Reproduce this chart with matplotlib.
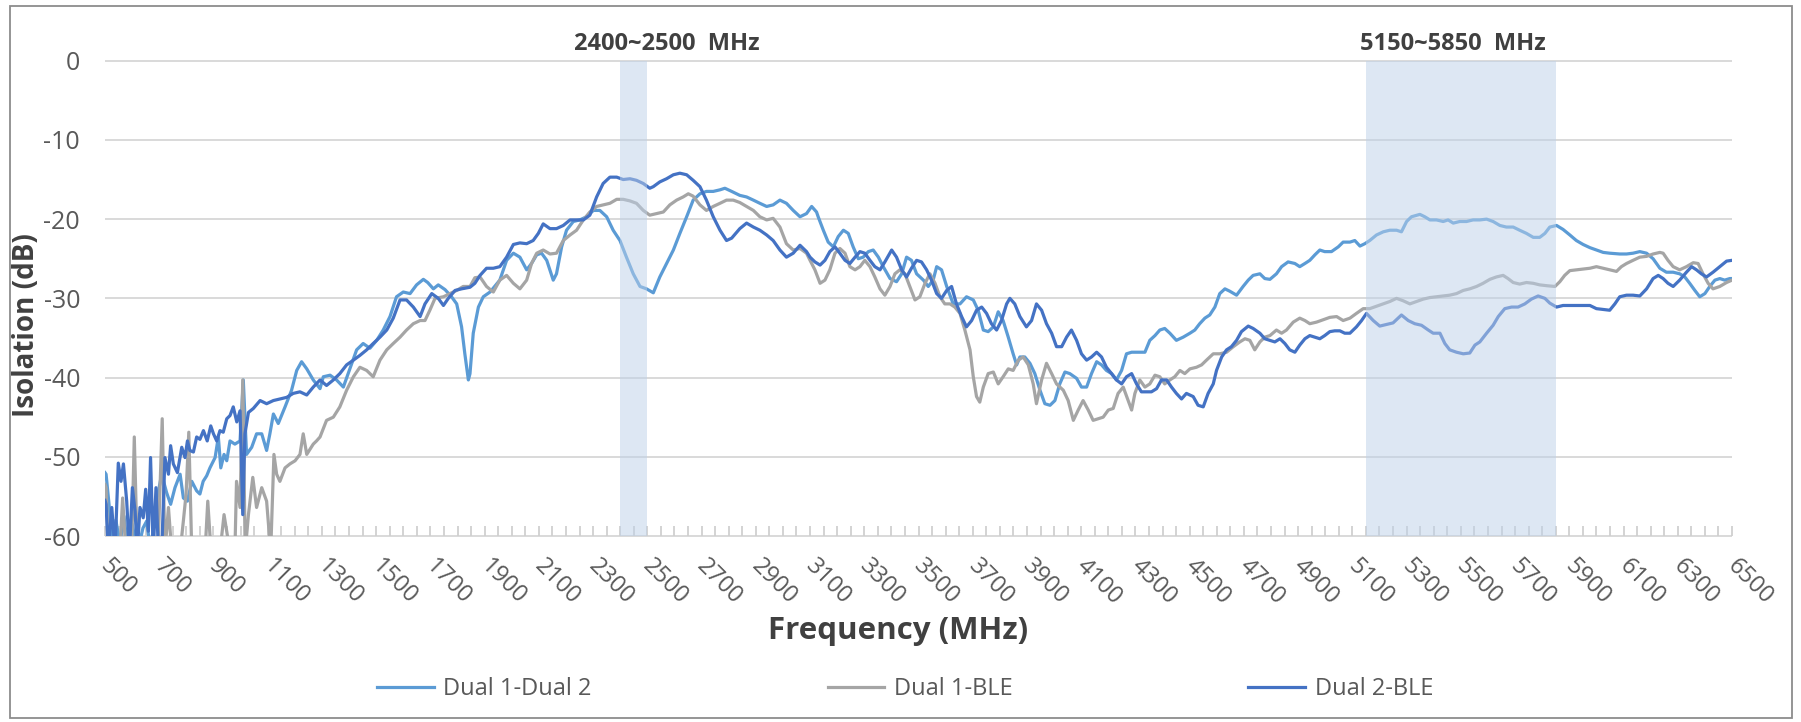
import matplotlib
matplotlib.use("Agg")
import matplotlib.pyplot as plt
from matplotlib.patches import Rectangle
import matplotlib.transforms as mtransforms

plt.rcParams['font.family'] = ['Open Sans', 'DejaVu Sans']
plt.rcParams['axes.unicode_minus'] = False

# ---------------- data ----------------
series_names = ["Dual 1-Dual 2", "Dual 1-BLE", "Dual 2-BLE"]
series_colors = ["#5B9BD5", "#A5A5A5", "#4472C4"]

y_ticks = [0, -10, -20, -30, -40, -50, -60]
x_label_ticks = list(range(500, 6501, 200))
x_minor_ticks = list(range(500, 6501, 50))
bands = [(2400, 2500), (5150, 5850)]
band_labels = ["2400~2500  MHz", "5150~5850  MHz"]
band_label_x = [2570, 5470]

d12_freq = [500, 504, 516, 528, 540, 555, 570, 585, 600, 620, 640, 654, 668, 690, 709, 727, 742, 758, 777, 789,
            804, 820, 838, 850, 862, 875, 887, 906, 918, 927, 939, 949, 961, 979, 998, 1010, 1022, 1041, 1059, 1078,
            1096, 1108, 1121, 1139, 1164, 1188, 1207, 1225, 1244, 1268, 1293, 1305, 1330, 1354, 1379, 1403, 1428, 1452, 1477, 1502,
            1526, 1551, 1575, 1600, 1625, 1649, 1674, 1690, 1711, 1729, 1754, 1778, 1797, 1815, 1827, 1840, 1846, 1858, 1877, 1895,
            1920, 1956, 1981, 2006, 2030, 2055, 2073, 2092, 2110, 2129, 2153, 2165, 2184, 2202, 2227, 2251, 2276, 2301, 2325, 2350,
            2374, 2399, 2423, 2448, 2473, 2497, 2522, 2546, 2571, 2596, 2620, 2645, 2669, 2694, 2718, 2743, 2768, 2786, 2811, 2841,
            2866, 2891, 2915, 2940, 2964, 2989, 3013, 3038, 3063, 3087, 3106, 3124, 3130, 3149, 3167, 3186, 3204, 3223, 3241, 3259,
            3278, 3296, 3315, 3333, 3352, 3370, 3395, 3419, 3438, 3456, 3474, 3493, 3518, 3536, 3554, 3567, 3585, 3604, 3628, 3653,
            3677, 3702, 3720, 3739, 3757, 3776, 3794, 3812, 3831, 3849, 3862, 3874, 3892, 3911, 3929, 3948, 3966, 3985, 4003, 4021,
            4040, 4058, 4083, 4101, 4120, 4138, 4157, 4175, 4193, 4212, 4230, 4249, 4267, 4286, 4310, 4335, 4353, 4372, 4390, 4408,
            4427, 4451, 4476, 4501, 4519, 4537, 4556, 4574, 4593, 4611, 4630, 4648, 4673, 4697, 4716, 4734, 4759, 4777, 4796, 4820,
            4839, 4863, 4888, 4906, 4925, 4943, 4962, 4980, 4998, 5023, 5048, 5066, 5091, 5109, 5128, 5146, 5164, 5189, 5214, 5238,
            5263, 5281, 5300, 5318, 5349, 5367, 5386, 5410, 5435, 5453, 5472, 5496, 5521, 5545, 5570, 5595, 5619, 5644, 5668, 5693,
            5717, 5742, 5767, 5791, 5810, 5828, 5853, 5877, 5902, 5926, 5951, 5976, 6000, 6025, 6049, 6086, 6111, 6135, 6160, 6185,
            6209, 6234, 6258, 6283, 6307, 6326, 6344, 6363, 6381, 6400, 6418, 6437, 6455, 6473, 6492, 6500]
d12_db = [-52.0, -52.2, -56.4, -62.0, -58.0, -61.0, -57.5, -62.0, -58.5, -62.0, -59.0, -58.1, -62.0, -55.6, -52.2, -54.5, -56.0, -53.9, -52.2, -55.2,
          -55.6, -53.1, -54.3, -54.7, -53.1, -52.4, -51.4, -50.1, -47.5, -51.4, -49.7, -50.5, -48.0, -48.4, -48.0, -40.3, -49.7, -48.8, -47.1, -47.1,
          -49.2, -47.1, -44.6, -45.8, -43.7, -41.6, -39.1, -38.0, -38.9, -40.3, -41.4, -39.9, -39.7, -40.3, -41.2, -38.9, -36.5, -35.7, -36.3, -35.3,
          -34.0, -32.3, -29.8, -29.2, -29.4, -28.3, -27.6, -28.0, -28.8, -28.3, -28.9, -29.8, -30.7, -33.6, -37.0, -40.3, -39.5, -34.4, -31.1, -29.8,
          -29.2, -27.7, -25.2, -24.3, -24.8, -26.4, -25.6, -24.5, -24.3, -25.2, -27.7, -26.9, -23.5, -21.4, -20.3, -20.1, -19.7, -18.9, -18.9, -19.7,
          -21.4, -22.7, -24.8, -26.9, -28.5, -28.8, -29.3, -27.3, -25.6, -23.9, -21.8, -19.7, -17.6, -16.8, -16.5, -16.5, -16.3, -16.1, -16.5, -17.0,
          -17.2, -17.6, -18.0, -18.4, -18.2, -17.6, -18.0, -18.9, -19.7, -19.3, -18.4, -19.1, -19.7, -21.4, -22.9, -23.5, -22.2, -21.4, -21.8, -23.5,
          -25.0, -24.8, -24.1, -23.9, -24.8, -26.0, -27.5, -27.9, -26.9, -24.8, -25.2, -26.9, -27.7, -28.5, -27.7, -26.0, -26.4, -28.5, -30.7, -30.7,
          -29.8, -30.2, -31.5, -34.0, -34.2, -33.6, -31.7, -32.8, -34.9, -37.0, -38.4, -37.4, -37.4, -38.2, -39.5, -41.6, -43.3, -43.5, -42.9, -40.8,
          -39.3, -39.5, -40.1, -41.2, -41.2, -39.5, -38.0, -38.4, -39.1, -39.5, -40.3, -39.1, -37.0, -36.8, -36.8, -36.8, -35.3, -34.7, -34.0, -33.8,
          -34.4, -35.3, -34.9, -34.4, -34.0, -33.2, -32.5, -32.1, -31.1, -29.4, -28.8, -29.1, -29.6, -28.5, -27.7, -27.1, -26.9, -27.5, -27.6, -26.9,
          -26.0, -25.4, -25.6, -26.0, -25.6, -25.2, -24.5, -23.9, -24.1, -24.1, -23.5, -22.9, -22.9, -22.7, -23.4, -23.1, -22.7, -22.0, -21.6, -21.4,
          -21.4, -21.6, -20.3, -19.7, -19.4, -19.7, -20.1, -20.1, -20.3, -20.1, -20.5, -20.3, -20.3, -20.1, -20.1, -20.0, -20.3, -20.8, -21.0, -21.0,
          -21.4, -21.8, -22.3, -22.3, -21.8, -21.0, -20.8, -21.3, -22.0, -22.7, -23.2, -23.6, -23.9, -24.2, -24.3, -24.4, -24.4, -24.3, -24.1, -24.3,
          -25.0, -26.2, -26.7, -26.7, -26.9, -27.3, -28.1, -29.0, -29.8, -29.4, -28.5, -27.7, -27.5, -27.7, -27.5, -27.5]

d1ble_freq = [500, 504, 512, 545, 555, 565, 577, 598, 608, 619, 650, 695, 703, 711, 721, 734, 746, 777, 789, 799,
              809, 820, 869, 879, 891, 924, 939, 949, 961, 979, 985, 998, 1008, 1017, 1029, 1045, 1059, 1078, 1096, 1111,
              1123, 1133, 1145, 1164, 1182, 1201, 1219, 1231, 1244, 1268, 1280, 1293, 1317, 1342, 1366, 1391, 1416, 1440, 1465, 1489,
              1514, 1539, 1563, 1588, 1612, 1637, 1662, 1680, 1698, 1717, 1748, 1772, 1797, 1821, 1846, 1864, 1883, 1907, 1932, 1956,
              1981, 2006, 2030, 2055, 2073, 2092, 2116, 2141, 2165, 2190, 2215, 2239, 2264, 2288, 2313, 2337, 2362, 2387, 2411, 2436,
              2460, 2485, 2509, 2534, 2559, 2583, 2608, 2632, 2651, 2669, 2694, 2718, 2743, 2768, 2792, 2817, 2841, 2866, 2891, 2915,
              2940, 2964, 2989, 3013, 3038, 3063, 3087, 3100, 3118, 3137, 3155, 3173, 3192, 3210, 3229, 3247, 3266, 3284, 3302, 3321,
              3339, 3358, 3376, 3395, 3413, 3431, 3450, 3468, 3487, 3505, 3524, 3542, 3561, 3579, 3597, 3616, 3634, 3653, 3671, 3690,
              3702, 3714, 3726, 3739, 3757, 3776, 3794, 3812, 3831, 3849, 3868, 3886, 3905, 3923, 3935, 3954, 3972, 3991, 4009, 4034,
              4052, 4071, 4089, 4107, 4126, 4144, 4163, 4181, 4200, 4218, 4236, 4255, 4273, 4286, 4298, 4316, 4335, 4353, 4372, 4390,
              4408, 4427, 4445, 4464, 4482, 4501, 4525, 4544, 4562, 4587, 4611, 4636, 4661, 4685, 4704, 4722, 4740, 4759, 4777, 4796,
              4820, 4839, 4857, 4882, 4906, 4925, 4943, 4968, 4992, 5017, 5042, 5066, 5091, 5115, 5140, 5164, 5189, 5214, 5238, 5263,
              5287, 5312, 5336, 5361, 5386, 5410, 5435, 5459, 5484, 5509, 5533, 5558, 5582, 5607, 5631, 5656, 5674, 5693, 5717, 5742,
              5767, 5791, 5816, 5847, 5865, 5883, 5902, 5926, 5951, 5976, 6000, 6025, 6049, 6074, 6092, 6111, 6135, 6160, 6185, 6209,
              6234, 6246, 6264, 6283, 6307, 6332, 6357, 6375, 6393, 6412, 6430, 6455, 6480, 6500]
d1ble_db = [-53.5, -53.9, -62.0, -62.0, -62.0, -55.2, -62.0, -62.0, -47.5, -62.0, -62.0, -62.0, -53.9, -45.2, -62.0, -56.4, -62.0, -62.0, -58.1, -54.7,
            -46.9, -62.0, -62.0, -55.6, -62.0, -62.0, -57.3, -59.4, -62.0, -62.0, -53.1, -56.4, -40.3, -62.0, -57.3, -52.6, -56.4, -53.9, -55.6, -62.0,
            -49.7, -52.2, -53.1, -51.4, -50.9, -50.5, -49.7, -47.1, -49.7, -48.4, -48.0, -47.5, -45.4, -45.0, -43.7, -41.6, -39.9, -38.7, -39.1, -39.9,
            -37.8, -36.5, -35.7, -34.9, -34.0, -33.2, -32.8, -32.8, -31.5, -30.0, -29.8, -29.4, -29.0, -28.5, -28.5, -27.4, -27.3, -28.5, -29.2, -27.7,
            -27.1, -28.1, -28.8, -27.7, -25.6, -24.3, -23.9, -24.4, -24.3, -22.7, -22.0, -21.4, -20.1, -19.1, -18.4, -18.2, -18.0, -17.5, -17.5, -17.7,
            -18.0, -18.9, -19.5, -19.3, -19.1, -18.2, -17.6, -17.2, -16.8, -17.1, -18.2, -18.9, -18.4, -18.0, -17.6, -17.6, -17.9, -18.4, -18.9, -19.7,
            -20.1, -19.9, -21.0, -23.1, -23.9, -23.7, -24.3, -25.2, -26.4, -28.1, -27.7, -26.4, -24.3, -23.7, -24.3, -26.0, -26.4, -26.0, -25.2, -26.0,
            -27.3, -28.8, -29.6, -28.5, -26.9, -26.4, -26.9, -28.5, -30.2, -29.8, -28.1, -26.9, -28.1, -29.8, -30.7, -30.7, -31.1, -31.9, -34.0, -36.5,
            -39.9, -42.4, -43.1, -41.2, -39.5, -39.3, -40.8, -39.9, -38.9, -39.1, -37.8, -37.4, -38.4, -40.8, -43.3, -40.3, -38.2, -39.5, -40.8, -41.6,
            -42.9, -45.4, -44.1, -42.9, -44.1, -45.4, -45.2, -45.0, -44.1, -43.9, -42.0, -41.2, -42.9, -44.1, -42.0, -40.3, -41.2, -40.8, -39.7, -39.9,
            -40.8, -40.3, -39.9, -39.1, -39.5, -38.9, -38.7, -38.4, -37.8, -37.0, -37.0, -36.8, -36.1, -35.5, -35.1, -35.3, -36.5, -35.5, -34.9, -34.7,
            -34.0, -34.4, -34.0, -33.0, -32.5, -32.8, -33.2, -33.0, -32.7, -32.4, -32.3, -32.8, -32.5, -31.9, -31.3, -31.3, -31.0, -30.7, -30.4, -30.0,
            -30.3, -30.7, -30.4, -30.1, -29.9, -29.8, -29.7, -29.6, -29.4, -29.0, -28.8, -28.5, -28.1, -27.6, -27.3, -27.1, -27.5, -28.0, -28.2, -28.0,
            -28.1, -28.3, -28.4, -28.5, -27.9, -27.1, -26.5, -26.4, -26.3, -26.2, -26.0, -26.2, -26.4, -26.6, -26.0, -25.6, -25.2, -24.8, -24.7, -24.4,
            -24.2, -24.3, -25.2, -26.0, -26.4, -26.0, -25.5, -25.6, -26.9, -28.1, -28.8, -28.5, -28.0, -27.7]

d2ble_freq = [500, 504, 512, 525, 537, 549, 559, 568, 580, 590, 601, 611, 619, 629, 641, 650, 660, 668, 678, 688,
              697, 709, 721, 734, 742, 752, 767, 783, 795, 804, 813, 826, 838, 850, 863, 877, 890, 900, 912, 924,
              936, 949, 961, 973, 986, 998, 1008, 1016, 1029, 1047, 1072, 1096, 1121, 1145, 1170, 1194, 1219, 1244, 1268, 1293,
              1317, 1342, 1366, 1391, 1416, 1440, 1465, 1489, 1514, 1539, 1563, 1588, 1612, 1637, 1662, 1680, 1705, 1729, 1748, 1766,
              1791, 1815, 1846, 1864, 1883, 1907, 1932, 1956, 1981, 2006, 2030, 2055, 2079, 2098, 2116, 2141, 2165, 2190, 2215, 2239,
              2264, 2288, 2313, 2337, 2362, 2387, 2411, 2436, 2460, 2485, 2509, 2522, 2546, 2571, 2596, 2620, 2645, 2669, 2694, 2718,
              2743, 2768, 2792, 2811, 2841, 2866, 2891, 2915, 2940, 2964, 2989, 3013, 3038, 3063, 3087, 3100, 3118, 3137, 3155, 3173,
              3192, 3210, 3229, 3247, 3266, 3284, 3302, 3321, 3339, 3358, 3376, 3401, 3419, 3438, 3456, 3474, 3493, 3511, 3530, 3548,
              3567, 3585, 3604, 3622, 3640, 3659, 3677, 3696, 3714, 3733, 3751, 3769, 3788, 3806, 3825, 3837, 3855, 3874, 3898, 3917,
              3935, 3954, 3972, 3991, 4009, 4028, 4046, 4064, 4083, 4101, 4120, 4138, 4157, 4175, 4193, 4212, 4230, 4249, 4267, 4286,
              4304, 4322, 4341, 4359, 4378, 4396, 4415, 4433, 4451, 4470, 4488, 4513, 4531, 4550, 4568, 4587, 4599, 4618, 4636, 4654,
              4673, 4691, 4716, 4734, 4759, 4777, 4796, 4814, 4833, 4851, 4869, 4888, 4906, 4925, 4943, 4962, 4980, 4998, 5017, 5035,
              5054, 5072, 5091, 5115, 5134, 5152, 5177, 5201, 5226, 5250, 5281, 5306, 5330, 5355, 5380, 5398, 5423, 5441, 5459, 5484,
              5509, 5533, 5552, 5570, 5595, 5619, 5638, 5662, 5687, 5711, 5736, 5760, 5785, 5810, 5828, 5853, 5877, 5926, 5976, 6000,
              6025, 6049, 6068, 6086, 6111, 6135, 6160, 6185, 6209, 6228, 6246, 6264, 6283, 6307, 6332, 6351, 6369, 6387, 6406, 6430,
              6455, 6480, 6500]
d2ble_db = [-55.5, -56.0, -62.0, -56.4, -62.0, -50.8, -53.1, -50.9, -55.6, -62.0, -53.9, -56.9, -62.0, -56.4, -57.7, -54.1, -59.4, -50.1, -62.0, -53.9,
            -62.0, -62.0, -50.1, -52.2, -48.6, -50.9, -52.0, -48.8, -50.1, -48.0, -49.2, -49.4, -47.5, -47.8, -46.7, -48.0, -46.1, -47.1, -48.0, -46.7,
            -46.9, -45.2, -44.8, -43.7, -45.6, -44.2, -57.3, -47.1, -44.4, -43.9, -42.9, -43.3, -42.9, -42.7, -42.5, -42.0, -41.8, -42.2, -41.2, -40.3,
            -41.0, -40.3, -39.5, -38.4, -37.8, -37.2, -36.5, -35.7, -34.9, -34.0, -32.5, -30.2, -30.2, -31.1, -32.3, -30.7, -29.4, -30.0, -30.9, -30.0,
            -29.0, -28.8, -28.6, -28.1, -27.1, -26.2, -26.2, -26.0, -24.8, -23.2, -23.0, -23.1, -22.7, -21.8, -20.6, -21.2, -21.2, -20.8, -20.1, -20.1,
            -20.1, -19.5, -17.2, -15.5, -14.7, -14.7, -15.0, -14.9, -15.1, -15.5, -16.1, -15.9, -15.3, -14.9, -14.4, -14.2, -14.4, -15.1, -15.9, -17.6,
            -19.7, -21.4, -22.7, -22.4, -21.2, -20.5, -21.0, -21.4, -22.0, -22.7, -23.9, -24.8, -24.3, -23.3, -24.1, -24.8, -25.4, -25.8, -25.2, -24.1,
            -23.5, -24.3, -25.2, -25.6, -24.8, -24.1, -24.3, -25.2, -26.0, -26.4, -25.4, -23.9, -24.8, -26.4, -27.3, -26.2, -25.2, -25.4, -26.4, -27.7,
            -29.4, -30.0, -29.0, -28.5, -30.7, -32.3, -33.6, -32.8, -31.5, -31.1, -31.9, -33.2, -34.0, -32.8, -30.7, -30.0, -30.7, -32.3, -33.6, -32.8,
            -30.7, -31.5, -33.2, -34.4, -36.1, -36.1, -34.9, -34.0, -35.3, -37.0, -37.8, -37.4, -36.8, -37.4, -38.7, -39.5, -40.3, -40.8, -39.9, -39.5,
            -40.8, -41.8, -41.8, -41.8, -41.4, -40.3, -40.3, -41.2, -42.0, -42.7, -42.0, -42.4, -43.5, -43.7, -42.0, -40.8, -39.1, -37.4, -36.5, -36.1,
            -35.3, -34.2, -33.5, -33.8, -34.4, -35.1, -35.3, -35.5, -35.1, -35.7, -36.5, -36.8, -35.9, -35.1, -34.7, -34.9, -35.1, -34.7, -34.2, -34.1,
            -34.1, -34.4, -34.4, -33.6, -32.8, -31.9, -32.8, -33.5, -33.3, -33.1, -32.1, -32.8, -33.2, -33.4, -34.0, -34.4, -34.4, -35.7, -36.5, -36.8,
            -37.0, -36.9, -35.9, -35.5, -34.4, -33.4, -32.3, -31.3, -31.1, -31.1, -30.7, -30.1, -29.7, -30.0, -30.6, -31.1, -30.9, -30.9, -30.9, -31.3,
            -31.4, -31.5, -30.7, -29.8, -29.6, -29.6, -29.7, -28.8, -27.5, -27.1, -27.5, -28.1, -28.5, -27.7, -26.7, -26.0, -26.4, -26.9, -27.3, -26.7,
            -26.0, -25.3, -25.2]

series_freq = [d12_freq, d1ble_freq, d2ble_freq]
series_db = [d12_db, d1ble_db, d2ble_db]

# ---------------- figure ----------------
W, H = 1801, 722
fig = plt.figure(figsize=(W / 100, H / 100), dpi=100)
fig.patch.set_facecolor("white")
fig.patches.append(Rectangle((10 / W, 4 / H), (1792 - 10) / W, (716 - 4) / H,
                             transform=fig.transFigure, fill=False,
                             edgecolor="#8C8C8C", linewidth=1.3, zorder=0))

ax = fig.add_axes([105 / W, 1 - 536 / H, (1732 - 105) / W, (536 - 60.7) / H])
ax.set_xlim(500, 6500)
ax.set_ylim(-60, 0)
for s in ax.spines.values():
    s.set_visible(False)

grid_c = "#D9D9D9"
ax.hlines(y_ticks, 500, 6500, colors=grid_c, linewidth=1.4, clip_on=False, zorder=0.5)

for (b0, b1) in bands:
    ax.axvspan(b0, b1, ymin=0, ymax=1, facecolor="#BDD1E9", alpha=0.5,
               edgecolor="none", zorder=4)

for f, v, name, c in zip(series_freq, series_db, series_names, series_colors):
    ax.plot(f, v, color=c, linewidth=2.3, label=name, zorder=3, solid_joinstyle="round")

for txt, xpos in zip(band_labels, band_label_x):
    ax.text(xpos, 2.1, txt, ha="center", va="center", fontsize=17, fontweight="bold",
            color="#404040", clip_on=False)

ax.set_yticks(y_ticks)
ax.set_yticklabels([str(t) for t in y_ticks])
ax.tick_params(axis="y", length=0, pad=18, labelsize=18, labelcolor="#595959")

# x ticks (inside, every 50 MHz) with manually placed rotated labels
ax.set_xticks(x_minor_ticks)
ax.set_xticklabels([])
ax.tick_params(axis="x", direction="in", length=7, width=1.3, color="#D0D0D0")
lab_trans = ax.get_xaxis_transform() + mtransforms.ScaledTranslation(7.5 / 100, -18 / 100, fig.dpi_scale_trans)
for xv in x_label_ticks:
    ax.text(xv, 0, str(xv), transform=lab_trans, rotation=-45, rotation_mode="anchor",
            ha="left", va="top", fontsize=17, color="#595959", clip_on=False)

fig.text(27 / W, 1 - 325 / H, "Isolation (dB)", rotation=90, ha="center", va="center",
         fontsize=20, fontweight="bold", color="#404040")
fig.text(898 / W, 1 - 631 / H, "Frequency (MHz)", ha="center", va="center",
         fontsize=22.5, fontweight="bold", color="#404040")

handles, labels = ax.get_legend_handles_labels()
leg = fig.legend(handles, labels, loc="center", bbox_to_anchor=(905 / W, 1 - 689 / H),
                 ncol=3, frameon=False, fontsize=17, handlelength=2.4,
                 handletextpad=0.4, columnspacing=10.0)
for t in leg.get_texts():
    t.set_color("#595959")

fig.savefig("out.png", dpi=100, facecolor="white")
